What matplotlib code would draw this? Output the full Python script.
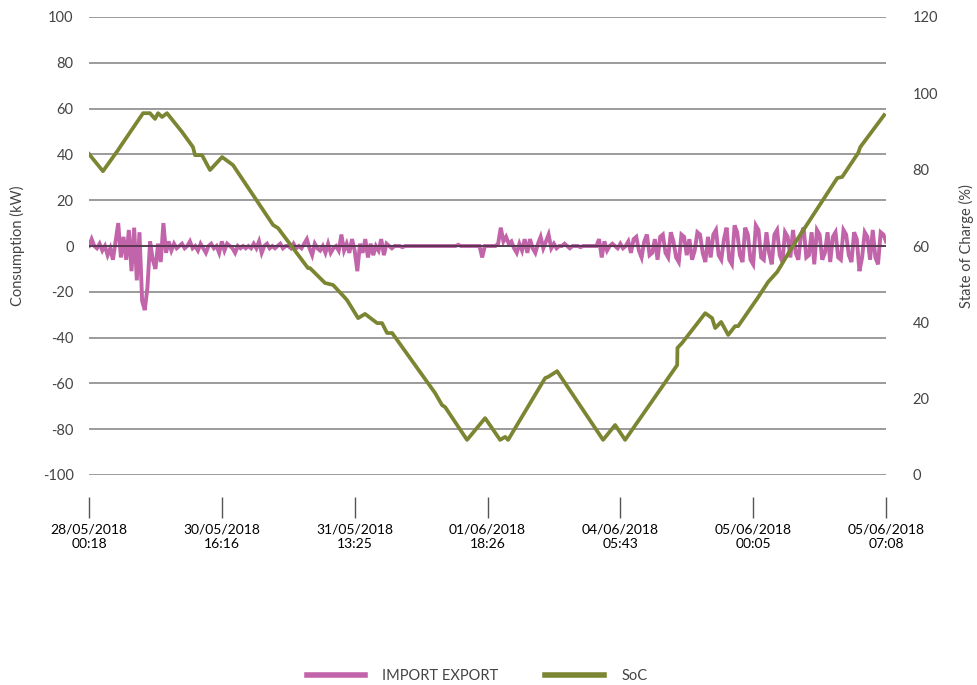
import matplotlib
matplotlib.use("Agg")
import matplotlib.pyplot as plt
import numpy as np

plt.rcParams['font.family'] = ['Lato', 'DejaVu Sans']

# ---- data ----
x_labels = ["28/05/2018\n00:18", "30/05/2018\n16:16", "31/05/2018\n13:25",
            "01/06/2018\n18:26", "04/06/2018\n05:43", "05/06/2018\n00:05",
            "05/06/2018\n07:08"]

# SoC vertices: position along the category axis (tick units) and value (%)
soc_pos = [0.000, 0.105, 0.218, 0.233, 0.407, 0.459, 0.497, 0.520, 0.550, 0.587,
           0.700, 0.783, 0.798, 0.851, 0.911, 1.002, 1.084, 1.386, 1.423, 1.649,
           1.664, 1.777, 1.837, 1.928, 1.943, 2.026, 2.078, 2.169, 2.206, 2.244,
           2.282, 2.605, 2.658, 2.681, 2.846, 2.982, 3.095, 3.133, 3.155, 3.434,
           3.456, 3.524, 3.870, 3.961, 4.036, 4.428, 4.430, 4.465, 4.639, 4.691,
           4.714, 4.759, 4.812, 4.864, 4.887, 5.038, 5.113, 5.181, 5.279, 5.633,
           5.670, 5.791, 5.806, 5.986]
soc_val = [84.1, 79.6, 85.1, 85.9, 94.8, 94.8, 93.3, 94.8, 93.8, 94.8,
           89.9, 85.9, 83.8, 83.8, 79.9, 83.3, 81.2, 65.5, 64.7, 54.2,
           54.2, 50.3, 49.8, 46.4, 45.8, 41.1, 42.2, 39.8, 39.8, 37.2,
           37.2, 21.5, 18.3, 17.8, 9.2, 14.9, 9.2, 10.0, 9.2, 25.4,
           25.7, 27.2, 9.2, 13.1, 9.2, 28.8, 33.3, 34.6, 42.4, 41.1,
           38.5, 40.1, 36.7, 39.0, 39.0, 46.6, 50.6, 53.2, 58.9, 77.8,
           78.1, 84.4, 85.9, 94.3]

# IMPORT EXPORT (kW), 50 readings per tick interval
import_export_seg0 = [0, 3, 0, -1, 1, -2, 0, -4, -1, -6,
                      2, 10, -5, 4, -6, 7, -11, 8, -15, 6,
                      -24, -28, -18, 2, -6, -10, 1, -7, 10, -3,
                      2, -2, 1, -1, 0, 1, -1, 0, 2, -1,
                      0, -2, 1, -1, -3, 0, 1, -1, 0, -3]
import_export_seg1 = [2, -2, 1, 0, -1, -3, 0, -1, 0, -1,
                      0, -1, 1, -1, 2, -3, 0, 1, -1, 0,
                      -1, 0, 1, -1, 0, 0, -1, 1, -1, 0,
                      -1, 1, 3, -1, -4, 1, -1, -2, 0, -3,
                      1, -3, -1, 0, -2, 5, -2, 1, -3, 3]
import_export_seg2 = [-2, -11, 1, -3, 3, -5, 1, -4, 0, -2,
                      3, -4, 1, 0, -1, 0, 0, 0, -0.5, 0,
                      0, 0, 0, 0, 0, 0, 0, 0, 0, 0,
                      0, 0, 0, 0, 0, 0, 0, 0, 0, 0.5,
                      0, 0, 0, 0, 0, 0, 0, 0, -5, 0]
import_export_seg3 = [0, 0, 0, 0, 1, 8, 2, 4, 1, 2,
                      -1, -3, 1, -2, 3, -3, 3, -1, -3, 1,
                      4, -1, 2, 5, -1, 1, -1, 0, 0, 1,
                      0, -1, 0, 0, 0, -0.5, 0, 0, 0, 0,
                      0, 0, 3, -5, 2, -2, 0, 1, 0, -1]
import_export_seg4 = [1, -1, 0, 2, -3, 3, 4, -2, -5, 2,
                      5, -4, -3, 3, -6, 4, 5, -3, -5, 6,
                      2, -5, -7, 5, 4, -4, 3, -6, -2, 6,
                      5, -3, -7, 4, -5, 5, 7, -4, -6, 3,
                      8, -6, -8, 9, 6, -4, -7, 8, 5, -6]
import_export_seg5 = [-8, 9, 7, -5, -6, 6, -3, -8, 5, 7,
                      -4, -7, 6, 4, -5, 7, -3, -6, 5, 8,
                      -5, -4, 6, -8, 7, 5, -6, -3, 6, -7,
                      4, 6, -5, -6, 7, 5, -4, -7, 6, 3,
                      -11, -5, 6, 4, -6, 7, -5, -8, 6, 5, 2]

import_export = (import_export_seg0 + import_export_seg1 + import_export_seg2 +
                 import_export_seg3 + import_export_seg4 + import_export_seg5)
ie_pos = np.linspace(0, 6, len(import_export))

left_ticks = list(range(-100, 101, 20))
right_ticks = list(range(0, 121, 20))

# ---- figure ----
W, H = 977, 685
fig = plt.figure(figsize=(W / 100, H / 100), dpi=100)
ax = fig.add_axes([89 / W, 1 - 475 / H, (886 - 89) / W, (475 - 17) / H])

pink = '#c264aa'
olive = '#7b8532'
grid_c = '#8a8a8a'
text_c = '#444444'

ax.plot(ie_pos, import_export, color=pink, lw=2.8, zorder=3,
        solid_joinstyle='miter', label='IMPORT EXPORT')
ax.axhline(0, color='#3d2b3a', lw=1.1, zorder=4)
ax.set_ylim(-100, 100)
ax.set_xlim(0, 6)
ax.set_yticks(left_ticks)
ax.set_yticklabels([str(v) for v in left_ticks])
ax.grid(axis='y', color=grid_c, lw=1.2, zorder=0)
ax.set_axisbelow(True)
ax.set_xticks(range(len(x_labels)))
ax.set_xticklabels(x_labels, fontsize=10, color=text_c, linespacing=1.45)
ax.tick_params(axis='y', length=0, pad=11, labelsize=10.5, labelcolor=text_c)
ax.tick_params(axis='x', length=15, width=1, color='#555555', pad=4, direction='out')
for s in ax.spines.values():
    s.set_visible(False)
ax.spines['bottom'].set_position(('outward', 16))

ax2 = ax.twinx()
ax2.plot(soc_pos, soc_val, color=olive, lw=2.7, zorder=5, label='SoC',
         solid_joinstyle='round')
ax2.set_ylim(0, 120)
ax2.set_yticks(right_ticks)
ax2.set_yticklabels([str(v) for v in right_ticks])
ax2.tick_params(axis='y', length=0, pad=19, labelsize=10.5, labelcolor=text_c)
for s in ax2.spines.values():
    s.set_visible(False)

fig.text(17 / W, 1 - 246 / H, 'Consumption (kW)', rotation=90, ha='center',
         va='center', fontsize=10.5, color=text_c)
fig.text(966 / W, 1 - 246 / H, 'State of Charge (%)', rotation=90, ha='center',
         va='center', fontsize=10.5, color=text_c)

h1, l1 = ax.get_legend_handles_labels()
h2, l2 = ax2.get_legend_handles_labels()
leg = fig.legend(h1 + h2, l1 + l2, loc='center', bbox_to_anchor=(477 / W, 1 - 676 / H),
                 ncol=2, frameon=False, fontsize=10.5, handlelength=4.0,
                 handletextpad=1.2, columnspacing=3.2)
for line in leg.get_lines():
    line.set_linewidth(4)
for t in leg.get_texts():
    t.set_color(text_c)

fig.savefig('out.png', dpi=100)
